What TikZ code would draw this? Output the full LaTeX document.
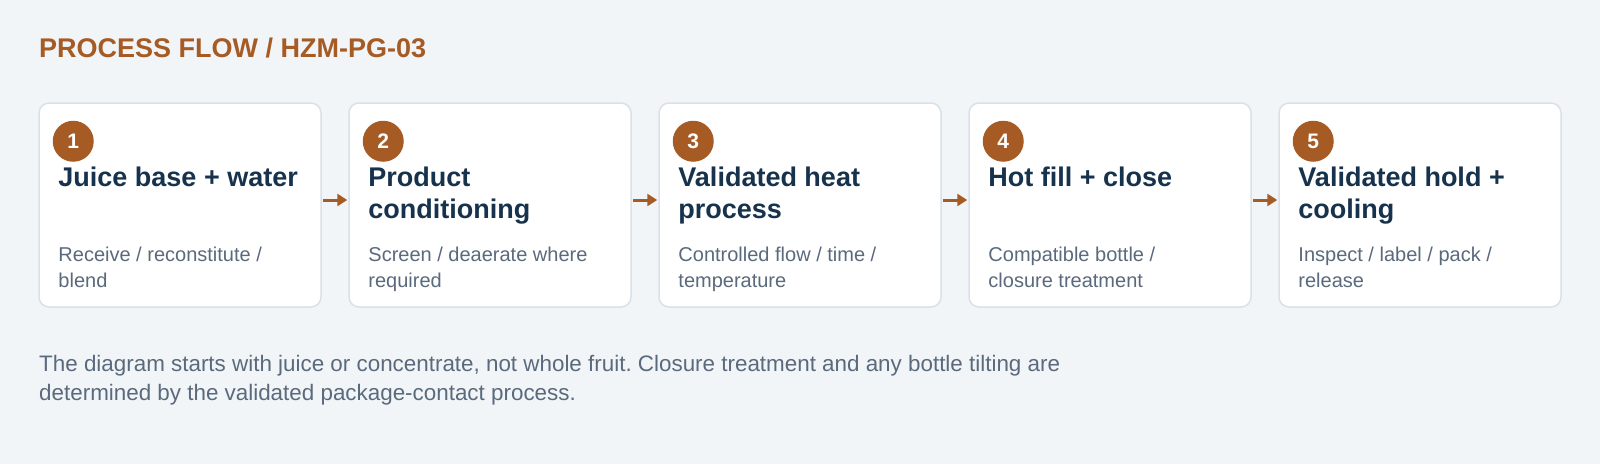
\documentclass[tikz,border=0pt]{standalone}
\usepackage{fontspec}
\setmainfont{Liberation Sans}
\usetikzlibrary{arrows.meta}
\frenchspacing
\definecolor{pagebg}{HTML}{F1F5F8}
\definecolor{cardedge}{HTML}{D9E1E8}
\definecolor{rust}{HTML}{A65B25}
\definecolor{navy}{HTML}{16324C}
\definecolor{slate}{HTML}{5A6A7C}
\tikzset{
  card/.style={draw=cardedge, line width=1.5pt, fill=white, rounded corners=10pt,
    minimum width=282pt, minimum height=204pt, inner sep=0pt},
  badge/.style={circle, fill=rust, text=white, minimum size=41pt, inner sep=0pt,
    font=\fontsize{21}{24}\selectfont\bfseries},
  head/.style={anchor=base west, inner sep=0pt, align=left, text=navy,
    font=\fontsize{27}{32}\selectfont\bfseries},
  desc/.style={anchor=base west, inner sep=0pt, align=left, text=slate,
    font=\fontsize{20}{26}\selectfont},
}
\begin{document}
\begin{tikzpicture}[x=1pt, y=-1pt]
  \fill[pagebg] (0,0) rectangle (1600,464);
  \useasboundingbox (0,0) rectangle (1600,464);
  \node[anchor=base west, inner sep=0pt, text=rust, font=\fontsize{27}{32}\selectfont\bfseries]
    (title) at (39,57) {PROCESS FLOW / HZM-PG-03};
  % steps
  \draw
    (180,205) node[card] (s1){}
    (490,205) node[card] (s2){}
    (800,205) node[card] (s3){}
    (1110,205) node[card] (s4){}
    (1420,205) node[card] (s5){};
  \node[badge] (n1) at ([shift={(35,39)}]s1.north west) {1};
  \node[badge] (n2) at ([shift={(35,39)}]s2.north west) {2};
  \node[badge] (n3) at ([shift={(35,39)}]s3.north west) {3};
  \node[badge] (n4) at ([shift={(35,39)}]s4.north west) {4};
  \node[badge] (n5) at ([shift={(35,39)}]s5.north west) {5};
  % base of a two-line node is its last line
  \node[head] (h1) at ([shift={(20,84)}]s1.north west) {Juice base + water};
  \node[head] (h2) at ([shift={(20,116)}]s2.north west) {Product\\conditioning};
  \node[head] (h3) at ([shift={(20,116)}]s3.north west) {Validated heat\\process};
  \node[head] (h4) at ([shift={(20,84)}]s4.north west) {Hot fill + close};
  \node[head] (h5) at ([shift={(20,116)}]s5.north west) {Validated hold +\\cooling};
  \node[desc] (d1) at ([shift={(20,185)}]s1.north west) {Receive / reconstitute /\\blend};
  \node[desc] (d2) at ([shift={(20,185)}]s2.north west) {Screen / deaerate where\\required};
  \node[desc] (d3) at ([shift={(20,185)}]s3.north west) {Controlled flow / time /\\temperature};
  \node[desc] (d4) at ([shift={(20,185)}]s4.north west) {Compatible bottle /\\closure treatment};
  \node[desc] (d5) at ([shift={(20,185)}]s5.north west) {Inspect / label / pack /\\release};
  \begin{scope}[draw=rust, line width=3pt, -{Triangle[length=10pt, width=12pt]}]
    \draw ([shift={(1.5,-5)}]s1.east) to ([shift={(-1,-5)}]s2.west);
    \draw ([shift={(1.5,-5)}]s2.east) to ([shift={(-1,-5)}]s3.west);
    \draw ([shift={(1.5,-5)}]s3.east) to ([shift={(-1,-5)}]s4.west);
    \draw ([shift={(1.5,-5)}]s4.east) to ([shift={(-1,-5)}]s5.west);
  \end{scope}
  \node[anchor=base west, inner sep=0pt, align=left, text=slate, font=\fontsize{22.4}{29}\selectfont]
    (note) at (39,400) {The diagram starts with juice or concentrate, not whole fruit. Closure treatment and any bottle tilting are\\determined by the validated package-contact process.};
\end{tikzpicture}
\end{document}
